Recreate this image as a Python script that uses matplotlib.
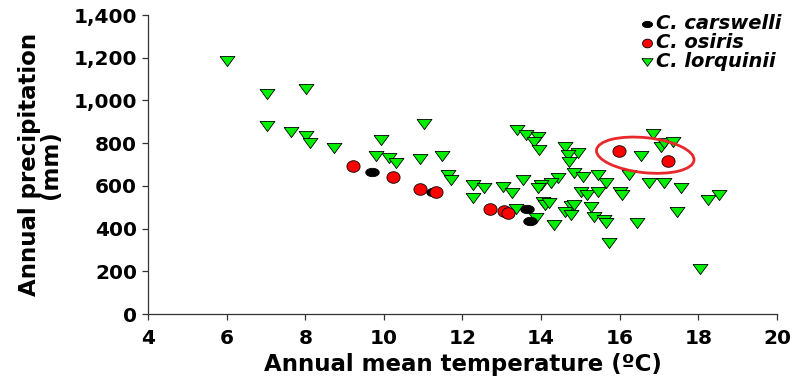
import numpy as np
import matplotlib.pyplot as plt
from matplotlib.patches import Ellipse
from matplotlib.transforms import ScaledTranslation

plt.rcParams['font.family'] = ['DejaVu Sans']

# C. carswelli
cars_x = [9.70, 11.24, 13.63, 13.71]
cars_y = [665, 571, 492, 435]

# C. osiris
osi_x = [9.21, 10.23, 10.91, 11.32, 12.69, 13.05, 13.17, 15.97, 17.22]
osi_y = [693, 641, 585, 571, 492, 482, 473, 763, 716]

# C. lorquinii
lor_x = [6.02, 7.02, 8.01, 7.02, 7.63, 8.01, 8.11, 8.72, 9.92, 9.81,
         10.12, 10.30, 11.01, 10.93, 11.49, 11.62, 11.72, 12.26, 12.54, 12.28,
         13.02, 13.25, 13.53, 13.35, 13.86, 13.40, 13.61, 13.91, 13.81, 13.94,
         14.62, 14.93, 14.68, 14.70, 14.83, 15.06, 15.46, 15.64, 16.02, 16.07,
         14.42, 14.24, 13.99, 13.91, 15.01, 15.18, 15.44, 14.04, 14.09, 14.19,
         14.75, 14.62, 15.26, 15.34, 15.59, 15.64, 14.32, 15.72, 16.43, 16.23,
         16.53, 16.74, 16.84, 17.04, 17.12, 17.35, 17.14, 17.55, 17.45, 18.24,
         18.52, 18.04, 14.75, 14.85]
lor_y = [1185, 1030, 1053, 880, 852, 833, 800, 777, 815, 740,
         730, 707, 890, 726, 740, 651, 627, 604, 590, 543,
         595, 566, 627, 492, 450, 861, 838, 829, 805, 768,
         782, 754, 744, 712, 660, 641, 651, 613, 571, 557,
         637, 613, 604, 590, 571, 557, 571, 524, 510, 520,
         506, 478, 501, 454, 440, 426, 417, 332, 426, 651,
         740, 613, 843, 782, 801, 805, 613, 590, 478, 534,
         557, 211, 463, 510]

# highlighted pair of C. osiris sites
ring_x, ring_y = 16.65, 744

x_ticks = [4, 6, 8, 10, 12, 14, 16, 18, 20]
y_ticks = [0, 200, 400, 600, 800, 1000, 1200, 1400]
y_tick_labels = ['0', '200', '400', '600', '800', '1,000', '1,200', '1,400']

# marker shapes
t = np.linspace(0, 2 * np.pi, 40)
flat_oval = np.column_stack([np.cos(t), 0.62 * np.sin(t)])
red_oval = np.column_stack([np.cos(t), 0.88 * np.sin(t)])
tri_down = [(-1, 0.68), (1, 0.68), (0, -0.68), (-1, 0.68)]

fig = plt.figure(figsize=(7.96, 3.85), dpi=100)
ax = fig.add_axes([0.186, 0.184, 0.790, 0.777])

ax.scatter(lor_x, lor_y, marker=tri_down, s=115, facecolor='#00ee00',
           edgecolor='black', linewidth=0.6, zorder=3, label='C. lorquinii')
ax.scatter(cars_x, cars_y, marker=flat_oval, s=95, facecolor='black',
           edgecolor='black', linewidth=0.6, zorder=4, label='C. carswelli')
ax.scatter(osi_x, osi_y, marker=red_oval, s=90, facecolor='#ff0000',
           edgecolor='black', linewidth=0.6, zorder=5, label='C. osiris')

# ring drawn in inches, centred on a data point
ring = Ellipse((0, 0), 0.98, 0.35, angle=-6, fill=False, edgecolor='#e8282a',
               linewidth=2, zorder=6,
               transform=fig.dpi_scale_trans + ScaledTranslation(ring_x, ring_y, ax.transData))
ax.add_patch(ring)

ax.set_xlim(4, 20)
ax.set_ylim(0, 1400)
ax.set_xticks(x_ticks)
ax.set_yticks(y_ticks)
ax.set_yticklabels(y_tick_labels)
for s in ['top', 'right']:
    ax.spines[s].set_visible(False)
for s in ['left', 'bottom']:
    ax.spines[s].set_color('#333333')
    ax.spines[s].set_linewidth(0.9)
ax.tick_params(direction='out', length=4, width=0.9, color='#333333',
               labelsize=14.5, pad=4)
ax.tick_params(axis='x', pad=7)
for lab in ax.get_xticklabels() + ax.get_yticklabels():
    lab.set_fontweight('bold')

ax.set_xlabel('Annual mean temperature (ºC)', fontsize=16.5, fontweight='bold', labelpad=3)
ax.set_ylabel('Annual precipitation\n(mm)', fontsize=16.5, fontweight='bold',
              labelpad=8, linespacing=0.9)

handles, labels = ax.get_legend_handles_labels()
order = [1, 2, 0]
leg = ax.legend([handles[i] for i in order], [labels[i] for i in order],
                loc='upper right', bbox_to_anchor=(1.02, 1.03), frameon=False,
                prop={'weight': 'bold', 'style': 'italic', 'size': 14},
                handletextpad=0.05, labelspacing=0.0, borderaxespad=0,
                markerscale=0.75, scatterpoints=1, handlelength=0.9)

fig.savefig('out.png', dpi=100)
